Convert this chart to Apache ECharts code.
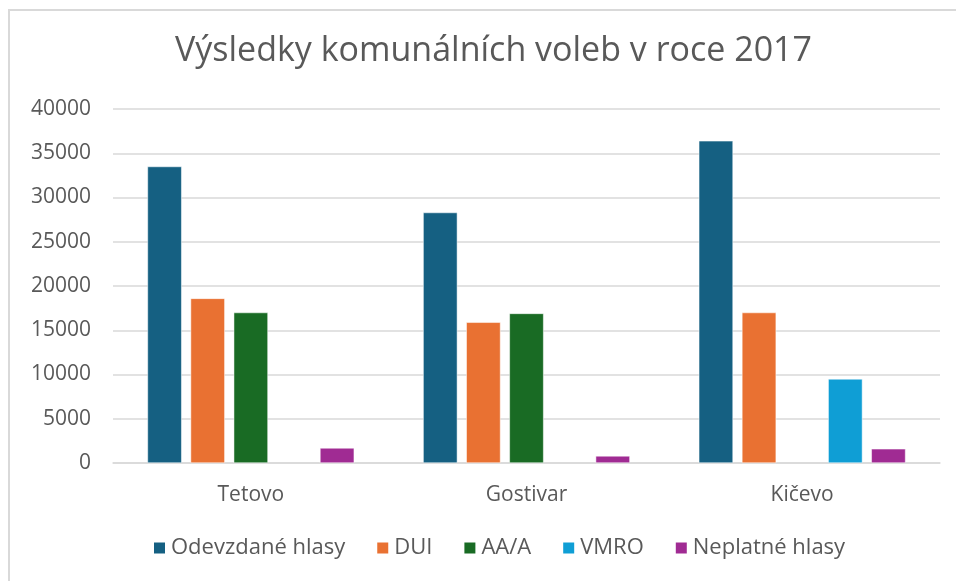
<!DOCTYPE html>
<html>
<head>
<meta charset="utf-8">
<script src="https://cdn.jsdelivr.net/npm/echarts@6/dist/echarts.min.js"></script>
<style>
  html, body { margin: 0; padding: 0; background: #fff; }
  #chart { width: 956px; height: 581px; }
</style>
</head>
<body>
<div id="chart"></div>
<script>
// obce a strany
const categories = ['Tetovo', 'Gostivar', 'Kičevo'];
const seriesNames = ['Odevzdané hlasy', 'DUI', 'AA/A', 'VMRO', 'Neplatné hlasy'];
const colors = ['#156082', '#E97132', '#196B24', '#0F9ED5', '#A02B93'];

// hodnoty (null = bez sloupce)
const odevzdane = [33500, 28300, 36400];
const dui = [18600, 15900, 17000];
const aaa = [17000, 16900, null];
const vmro = [null, null, 9500];
const neplatne = [1700, 800, 1600];

const yTicks = { min: 0, max: 40000, interval: 5000 };

const values = [odevzdane, dui, aaa, vmro, neplatne];
const font = 'Open Sans, sans-serif';

let mychart = echarts.init(document.getElementById('chart'));
mychart.setOption({
  animation: false,
  title: {
    text: 'Výsledky komunálních voleb v roce 2017',
    left: 170,
    top: 29,
    textStyle: { color: '#595959', fontSize: 34, fontWeight: 'normal', fontFamily: font }
  },
  graphic: [{
    type: 'rect',
    shape: { x: 9, y: 10, width: 980, height: 600 },
    style: { fill: 'none', stroke: '#d9d9d9', lineWidth: 2 },
    silent: true
  }],
  legend: {
    bottom: 17,
    left: 147,
    itemWidth: 13,
    itemHeight: 13,
    itemGap: 30,
    icon: 'rect',
    textStyle: { color: '#595959', fontSize: 22, fontFamily: font }
  },
  grid: { left: 113, right: 16, top: 109, bottom: 118 },
  xAxis: {
    type: 'category',
    data: categories,
    axisLine: { lineStyle: { color: '#d9d9d9', width: 1.5 } },
    axisTick: { show: false },
    axisLabel: { color: '#595959', fontSize: 21, fontFamily: font, margin: 22 }
  },
  yAxis: {
    type: 'value',
    min: yTicks.min,
    max: yTicks.max,
    interval: yTicks.interval,
    axisLine: { show: false },
    axisTick: { show: false },
    axisLabel: {
      color: '#595959', fontSize: 21, fontFamily: font, margin: 22,
      formatter: function (v) { return String(v); }
    },
    splitLine: { lineStyle: { color: '#d9d9d9', width: 1.5 } }
  },
  series: seriesNames.map(function (name, i) {
    return {
      name: name,
      type: 'bar',
      data: values[i],
      barGap: '26%',
      barCategoryGap: '25%',
      itemStyle: { color: colors[i], borderColor: '#ffffff', borderWidth: 0.5 }
    };
  }),
  color: colors
});
</script>
</body>
</html>
